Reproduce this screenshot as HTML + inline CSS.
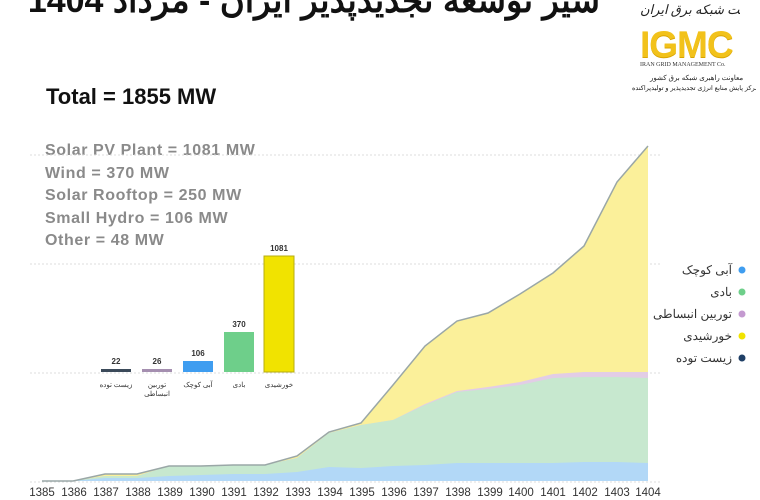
<!DOCTYPE html>
<html><head><meta charset="utf-8"><style>
body{margin:0;width:760px;height:500px;overflow:hidden;background:#fff;font-family:"Liberation Sans","Noto Sans CJK SC",sans-serif;position:relative}
.a{position:absolute;white-space:nowrap}
</style></head><body>
<div class="a" style="left:30px;top:-19px;font-size:34px;font-weight:bold;color:#111;direction:rtl;width:570px;text-align:left">سیر توسعه تجدیدپذیر ایران - مرداد 1404</div>
<div class="a" style="left:640px;top:2px;width:100px;text-align:center;font-size:13px;font-style:italic;color:#222;font-family:'Liberation Serif','Noto Serif CJK SC',serif;overflow:hidden">شرکت مدیریت شبکه برق ایران</div>
<div class="a" style="left:640px;top:24px;font-size:37px;font-weight:bold;color:#f2c21b;letter-spacing:-1px;text-shadow:0 1px 0 #d9a400">IGMC</div>
<div class="a" style="left:640px;top:62px;font-size:6px;color:#333;font-family:'Liberation Serif',serif">IRAN GRID MANAGEMENT Co.</div>
<div class="a" style="left:650px;top:74px;font-size:7px;color:#222">معاونت راهبری شبکه برق کشور</div>
<div class="a" style="left:632px;top:84px;font-size:6.5px;color:#222;width:124px;overflow:hidden">مرکز پایش منابع انرژی تجدیدپذیر و تولیدپراکنده</div>
<div class="a" style="left:46px;top:84px;font-size:22px;font-weight:bold;color:#111">Total = 1855 MW</div>
<div class="a" style="left:45px;top:140px;font-size:16px;font-weight:bold;color:#8a8a8a;line-height:22.5px;letter-spacing:0.6px">Solar PV Plant = 1081 MW<br>Wind = 370 MW<br>Solar Rooftop = 250 MW<br>Small Hydro = 106 MW<br>Other = 48 MW</div>
<svg class="a" style="left:0;top:0" width="760" height="500">
<g stroke="#ddd" stroke-dasharray="2,2" stroke-width="1">
<line x1="30" y1="155" x2="660" y2="155"/><line x1="30" y1="264" x2="660" y2="264"/><line x1="30" y1="373" x2="660" y2="373"/><line x1="30" y1="482" x2="660" y2="482"/></g>
<polygon fill="#fbf09a" points="42,481 73,481 105,474 137,474 169,466 201,466 233,465 265,465 297,456 329,432 361,423 393,385 425,346 457,321 488,313 520,294 553,273 584,246 617,182 648,146 648,481 42,481"/>
<polygon fill="#e2cde6" points="42,481 73,481 105,476 137,476 169,466 201,466 233,465 265,465 297,458 329,433 361,425 393,420 425,404 457,391 488,387 520,382 553,374 584,372 617,372 648,372 648,481"/>
<polygon fill="#c7e8cf" points="42,481 73,481 105,476 137,476 169,466 201,466 233,465 265,465 297,458 329,433 361,425 393,420 425,405 457,392 488,389 520,385 553,378 584,377 617,377 648,378 648,481"/>
<polygon fill="#b2d8f7" points="42,481 73,481 105,478 137,478 169,476 201,475 233,474 265,474 297,472 329,467 361,468 393,466 425,465 457,463 488,463 520,463 553,463 584,462 617,462 648,463 648,481"/>
<polyline fill="none" stroke="#9aa7a7" stroke-width="1.5" points="42,481 73,481 105,474 137,474 169,466 201,466 233,465 265,465 297,456 329,432 361,423 393,385 425,346 457,321 488,313 520,294 553,273 584,246 617,182 648,146"/>
<rect x="101" y="369" width="30" height="3" fill="#3b4a5a"/>
<rect x="142" y="369" width="30" height="3" fill="#a58fb0"/>
<rect x="183" y="361" width="30" height="11" fill="#3f9df0"/>
<rect x="224" y="332" width="30" height="40" fill="#6ecf8a"/>
<rect x="264" y="256" width="30" height="116" fill="#f1e300" stroke="#b7ad10"/>
<g font-size="8" font-weight="bold" fill="#333" text-anchor="middle" font-family="Liberation Sans,sans-serif">
<text x="116" y="364">22</text><text x="157" y="364">26</text><text x="198" y="356">106</text><text x="239" y="327">370</text><text x="279" y="251">1081</text></g>
<g font-size="7" fill="#333" text-anchor="middle">
<text x="116" y="387">زیست توده</text><text x="157" y="387">توربین</text><text x="157" y="396">انبساطی</text><text x="198" y="387">آبی کوچک</text><text x="239" y="387">بادی</text><text x="279" y="387">خورشیدی</text></g>
<g font-size="11.5" fill="#333" text-anchor="middle" font-family="Liberation Sans,sans-serif">
<text x="42" y="496">1385</text><text x="74" y="496">1386</text><text x="106" y="496">1387</text><text x="138" y="496">1388</text><text x="170" y="496">1389</text><text x="202" y="496">1390</text><text x="234" y="496">1391</text><text x="266" y="496">1392</text><text x="298" y="496">1393</text><text x="330" y="496">1394</text><text x="362" y="496">1395</text><text x="394" y="496">1396</text><text x="426" y="496">1397</text><text x="458" y="496">1398</text><text x="490" y="496">1399</text><text x="521" y="496">1400</text><text x="553" y="496">1401</text><text x="585" y="496">1402</text><text x="617" y="496">1403</text><text x="648" y="496">1404</text></g>
<circle cx="742" cy="270" r="3.5" fill="#3f9df0"/><circle cx="742" cy="292" r="3.5" fill="#6ecf8a"/><circle cx="742" cy="314" r="3.5" fill="#c49ad0"/><circle cx="742" cy="336" r="3.5" fill="#f1e300"/><circle cx="742" cy="358" r="3.5" fill="#1f3f66"/>
<g font-size="12" fill="#333" text-anchor="end">
<text x="732" y="274">آبی کوچک</text><text x="732" y="296">بادی</text><text x="732" y="318">توربین انبساطی</text><text x="732" y="340">خورشیدی</text><text x="732" y="362">زیست توده</text></g>
</svg>
</body></html>
